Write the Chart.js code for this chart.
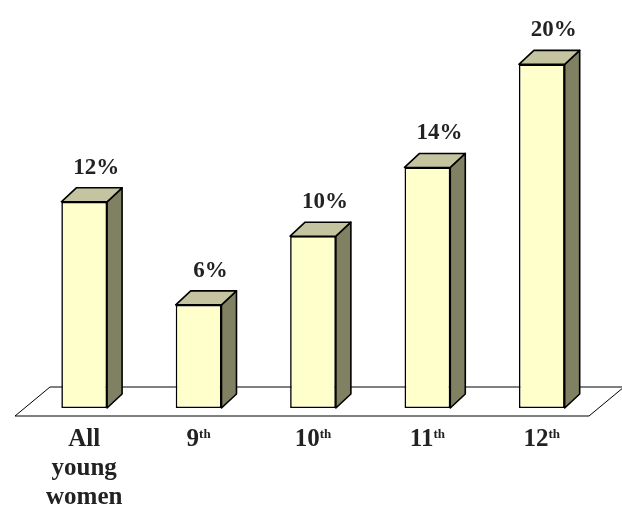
<!DOCTYPE html>
<html>
<head>
<meta charset="utf-8">
<script src="https://cdn.jsdelivr.net/npm/chart.js@4/dist/chart.umd.min.js"></script>
<style>
  body { margin: 0; background: #fff; }
  #wrap { width: 622px; height: 510px; }
</style>
</head>
<body>
<div id="wrap"><canvas id="chart" width="622" height="510"></canvas></div>
<script>
const categories = [["All", "young", "women"], ["9"], ["10"], ["11"], ["12"]];
const suffixes = ["", "th", "th", "th", "th"];
const values = [12, 6, 10, 14, 20];

const depthX = 15;
const depthY = 14;
const serif = '"Liberation Serif", "Times New Roman", serif';

// floor plane under the bars
const floorPlane = {
  id: "floorPlane",
  beforeDatasetsDraw(chart) {
    const { ctx, chartArea } = chart;
    const b = chartArea.bottom;
    ctx.save();
    ctx.beginPath();
    ctx.moveTo(chartArea.left - 12, b + 8);
    ctx.lineTo(chartArea.right - 10, b + 8);
    ctx.lineTo(chartArea.right + 25, b - 21);
    ctx.lineTo(chartArea.left + 23, b - 21);
    ctx.closePath();
    ctx.fillStyle = "#ffffff";
    ctx.fill();
    ctx.strokeStyle = "#000";
    ctx.lineWidth = 1;
    ctx.stroke();
    ctx.restore();
  },
};

// side and top faces of each bar + labels
const bars3d = {
  id: "bars3d",
  afterDatasetsDraw(chart) {
    const { ctx } = chart;
    const meta = chart.getDatasetMeta(0);
    ctx.save();
    ctx.lineWidth = 1.6;
    ctx.strokeStyle = "#000";
    ctx.lineJoin = "round";
    meta.data.forEach((bar, i) => {
      const half = bar.width / 2;
      const l = bar.x - half;
      const r = bar.x + half;
      const t = bar.y;
      const btm = bar.base;

      ctx.beginPath();
      ctx.moveTo(r, t);
      ctx.lineTo(r + depthX, t - depthY);
      ctx.lineTo(r + depthX, btm - depthY);
      ctx.lineTo(r, btm);
      ctx.closePath();
      ctx.fillStyle = "#808062";
      ctx.fill();
      ctx.stroke();

      ctx.beginPath();
      ctx.moveTo(l, t);
      ctx.lineTo(l + depthX, t - depthY);
      ctx.lineTo(r + depthX, t - depthY);
      ctx.lineTo(r, t);
      ctx.closePath();
      ctx.fillStyle = "#c4c4a0";
      ctx.fill();
      ctx.stroke();

      ctx.fillStyle = "#222";
      ctx.font = "bold 23px " + serif;
      ctx.textAlign = "center";
      ctx.textBaseline = "alphabetic";
      ctx.fillText(values[i] + "%", bar.x + 12, t - 28);
    });

    // category labels with superscript suffix
    const xScale = chart.scales.x;
    const b = chart.chartArea.bottom;
    ctx.textBaseline = "alphabetic";
    categories.forEach((lines, i) => {
      const cx = xScale.getPixelForTick(i);
      lines.forEach((txt, j) => {
        const y = b + 38 + j * 29;
        ctx.font = "bold 25px " + serif;
        if (suffixes[i]) {
          const w1 = ctx.measureText(txt).width;
          ctx.font = "bold 13px " + serif;
          const w2 = ctx.measureText(suffixes[i]).width;
          const start = cx - (w1 + w2) / 2;
          ctx.textAlign = "left";
          ctx.font = "bold 25px " + serif;
          ctx.fillText(txt, start, y);
          ctx.font = "bold 13px " + serif;
          ctx.fillText(suffixes[i], start + w1, y - 8);
        } else {
          ctx.textAlign = "center";
          ctx.fillText(txt, cx, y);
        }
      });
    });
    ctx.restore();
  },
};

new Chart(document.getElementById("chart"), {
  type: "bar",
  data: {
    labels: categories.map((c, i) => c.join(" ") + suffixes[i]),
    datasets: [
      {
        data: values,
        backgroundColor: "#ffffcc",
        borderColor: "#000",
        borderWidth: 1.6,
        borderSkipped: false,
        barPercentage: 0.4,
        categoryPercentage: 1,
      },
    ],
  },
  options: {
    responsive: false,
    animation: false,
    layout: {
      padding: { left: 27, right: 23, top: 30, bottom: 102 },
    },
    scales: {
      x: { display: false },
      y: { display: false, min: 0, max: 22 },
    },
    plugins: {
      legend: { display: false },
      tooltip: { enabled: false },
    },
  },
  plugins: [floorPlane, bars3d],
});
</script>
</body>
</html>
